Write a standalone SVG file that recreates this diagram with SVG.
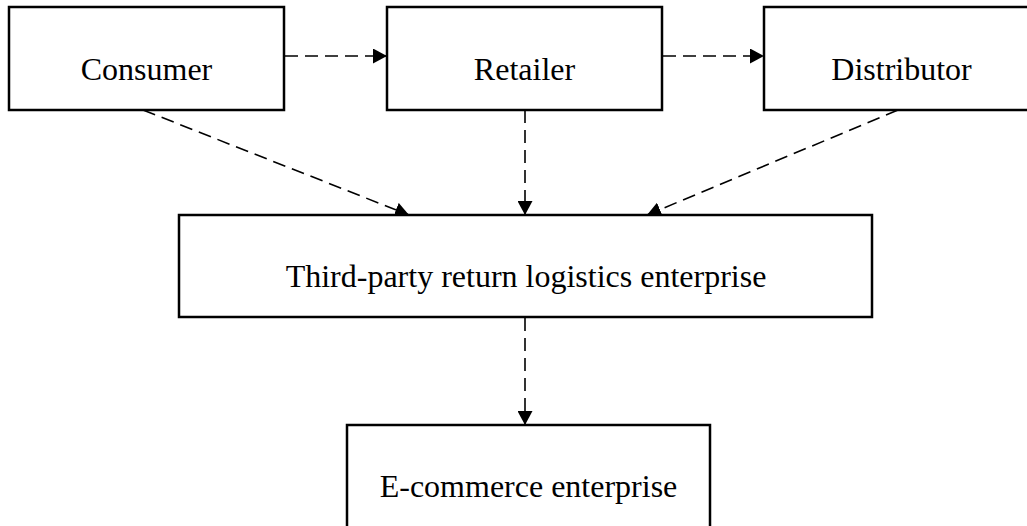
<svg xmlns="http://www.w3.org/2000/svg" width="1027" height="526" viewBox="0 0 1027 526">
  <style>
    .box { fill: #ffffff; stroke: #000000; stroke-width: 2.5; }
    .label { font-family: "Liberation Serif", "Times New Roman", serif; font-size: 32px; fill: #000000; text-anchor: middle; }
    .flow { fill: none; stroke: #000000; stroke-width: 1.6; stroke-dasharray: 13 7; }
  </style>
  <defs>
    <marker id="arrow" markerUnits="userSpaceOnUse" markerWidth="14" markerHeight="15" refX="14" refY="7.5" orient="auto">
      <path d="M0,0 L14,7.5 L0,15 Z" fill="#000000"/>
    </marker>
  </defs>

  <rect width="1027" height="526" fill="#ffffff"/>

  <!-- connectors -->
  <g id="connectors">
    <line class="flow" x1="285" y1="56" x2="387" y2="56" marker-end="url(#arrow)"/>
    <line class="flow" x1="663" y1="56" x2="764" y2="56" marker-end="url(#arrow)"/>
    <line class="flow" x1="143" y1="110" x2="409" y2="215" marker-end="url(#arrow)"/>
    <line class="flow" x1="525" y1="110" x2="525" y2="215" marker-end="url(#arrow)"/>
    <line class="flow" x1="898" y1="110" x2="647" y2="215" marker-end="url(#arrow)"/>
    <line class="flow" x1="525" y1="318" x2="525" y2="425" marker-end="url(#arrow)"/>
  </g>

  <!-- nodes -->
  <g id="consumer">
    <rect class="box" x="9" y="7" width="275" height="103"/>
    <text class="label" x="146.5" y="80">Consumer</text>
  </g>
  <g id="retailer">
    <rect class="box" x="387" y="7" width="275" height="103"/>
    <text class="label" x="524.5" y="80">Retailer</text>
  </g>
  <g id="distributor">
    <rect class="box" x="764" y="7" width="275" height="103"/>
    <text class="label" x="901.5" y="80">Distributor</text>
  </g>
  <g id="third-party">
    <rect class="box" x="179" y="215" width="693" height="102"/>
    <text class="label" x="526" y="287">Third-party return logistics enterprise</text>
  </g>
  <g id="e-commerce">
    <rect class="box" x="347" y="425" width="363" height="103"/>
    <text class="label" x="528.5" y="497">E-commerce enterprise</text>
  </g>
</svg>
